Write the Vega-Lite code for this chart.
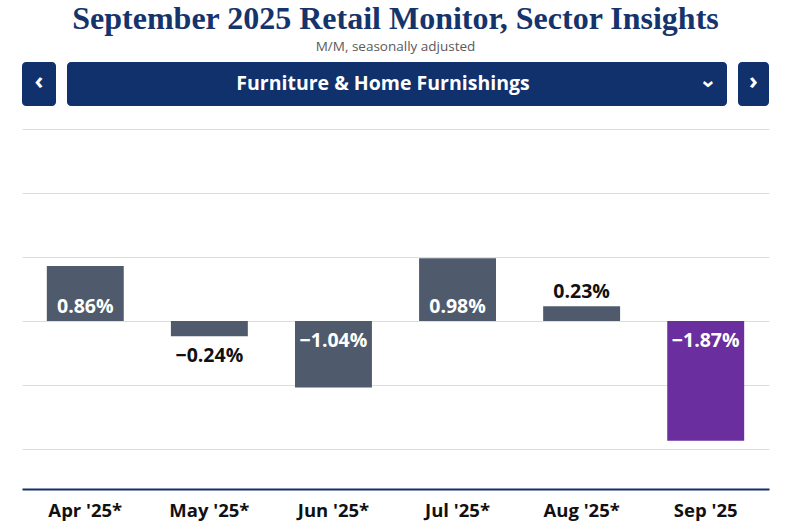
{
  "$schema": "https://vega.github.io/schema/vega-lite/v6.json",
  "background": "white",
  "padding": {"left": 22, "right": 31, "top": 2, "bottom": 7},
  "title": {
    "text": "September 2025 Retail Monitor, Sector Insights",
    "subtitle": "M/M, seasonally adjusted",
    "font": "Liberation Serif",
    "fontSize": 32,
    "fontWeight": "bold",
    "color": "#15346c",
    "subtitleFont": "Open Sans",
    "subtitleFontSize": 13.5,
    "subtitleColor": "#5a5a5a",
    "subtitlePadding": 4,
    "anchor": "middle",
    "offset": 8
  },
  "config": {"view": {"stroke": null}},
  "spacing": 23,
  "vconcat": [
    {
      "spacing": 11,
      "hconcat": [
        {
          "width": 34,
          "height": 44,
          "view": {"fill": "#10316b", "stroke": null, "cornerRadius": 4},
          "data": {"values": [{"label": "‹"}]},
          "mark": {"type": "text", "color": "white", "font": "Open Sans", "fontWeight": "bold", "fontSize": 24, "dy": -2},
          "encoding": {"text": {"field": "label"}}
        },
        {
          "width": 660,
          "height": 44,
          "view": {"fill": "#10316b", "stroke": null, "cornerRadius": 4},
          "data": {"values": [{"label": "Furniture & Home Furnishings", "icon": "›"}]},
          "layer": [
            {
              "mark": {"type": "text", "color": "white", "font": "Open Sans", "fontWeight": "bold", "fontSize": 19.5, "dx": -14},
              "encoding": {"text": {"field": "label"}}
            },
            {
              "mark": {"type": "text", "color": "white", "font": "Open Sans", "fontWeight": "bold", "fontSize": 22, "angle": 90, "radius": 312, "theta": 1.5708},
              "encoding": {"text": {"field": "icon"}}
            }
          ]
        },
        {
          "width": 31,
          "height": 44,
          "view": {"fill": "#10316b", "stroke": null, "cornerRadius": 4},
          "data": {"values": [{"label": "›"}]},
          "mark": {"type": "text", "color": "white", "font": "Open Sans", "fontWeight": "bold", "fontSize": 24, "dy": -2},
          "encoding": {"text": {"field": "label"}}
        }
      ]
    },
    {
      "width": 747,
      "height": 360,
      "data": {
        "values": [
          {"month": "Apr '25*", "value": 0.86, "status": "Revised"},
          {"month": "May '25*", "value": -0.24, "status": "Revised"},
          {"month": "Jun '25*", "value": -1.04, "status": "Revised"},
          {"month": "Jul '25*", "value": 0.98, "status": "Revised"},
          {"month": "Aug '25*", "value": 0.23, "status": "Revised"},
          {"month": "Sep '25", "value": -1.87, "status": "Advance"}
        ]
      },
      "transform": [{"calculate": "format(datum.value, '.2f') + '%'", "as": "label"}],
      "encoding": {
        "x": {
          "field": "month",
          "type": "nominal",
          "sort": null,
          "scale": {"paddingInner": 0.38, "paddingOuter": 0.2},
          "axis": {
            "title": null,
            "labelAngle": 0,
            "ticks": false,
            "domainColor": "#10316b",
            "domainWidth": 2,
            "labelFont": "Open Sans",
            "labelFontWeight": "bold",
            "labelFontSize": 18.5,
            "labelColor": "#111111",
            "labelPadding": 12,
            "grid": false
          }
        }
      },
      "layer": [
        {
          "mark": {"type": "bar"},
          "encoding": {
            "y": {
              "field": "value",
              "type": "quantitative",
              "scale": {"domain": [-2.625, 3], "nice": false, "zero": true},
              "axis": {
                "values": [-2, -1, 0, 1, 2, 3],
                "labels": false,
                "ticks": false,
                "domain": false,
                "title": null,
                "gridColor": "#d6dee9",
                "gridWidth": 1
              }
            },
            "color": {
              "field": "status",
              "type": "nominal",
              "scale": {"domain": ["Revised", "Advance"], "range": ["#4f5b6c", "#6a2e9e"]},
              "legend": null
            }
          }
        },
        {
          "transform": [{"filter": "datum.value >= 0.5"}],
          "mark": {"type": "text", "color": "white", "font": "Open Sans", "fontWeight": "bold", "fontSize": 19.5, "baseline": "middle", "dy": -14},
          "encoding": {"y": {"datum": 0, "type": "quantitative"}, "text": {"field": "label"}}
        },
        {
          "transform": [{"filter": "datum.value <= -0.5"}],
          "mark": {"type": "text", "color": "white", "font": "Open Sans", "fontWeight": "bold", "fontSize": 19.5, "baseline": "middle", "dy": 20},
          "encoding": {"y": {"datum": 0, "type": "quantitative"}, "text": {"field": "label"}}
        },
        {
          "transform": [{"filter": "datum.value > 0 && datum.value < 0.5"}],
          "mark": {"type": "text", "color": "#111111", "font": "Open Sans", "fontWeight": "bold", "fontSize": 19.5, "baseline": "middle", "dy": -14},
          "encoding": {"y": {"field": "value", "type": "quantitative"}, "text": {"field": "label"}}
        },
        {
          "transform": [{"filter": "datum.value < 0 && datum.value > -0.5"}],
          "mark": {"type": "text", "color": "#111111", "font": "Open Sans", "fontWeight": "bold", "fontSize": 19.5, "baseline": "middle", "dy": 20},
          "encoding": {"y": {"field": "value", "type": "quantitative"}, "text": {"field": "label"}}
        }
      ]
    }
  ]
}
